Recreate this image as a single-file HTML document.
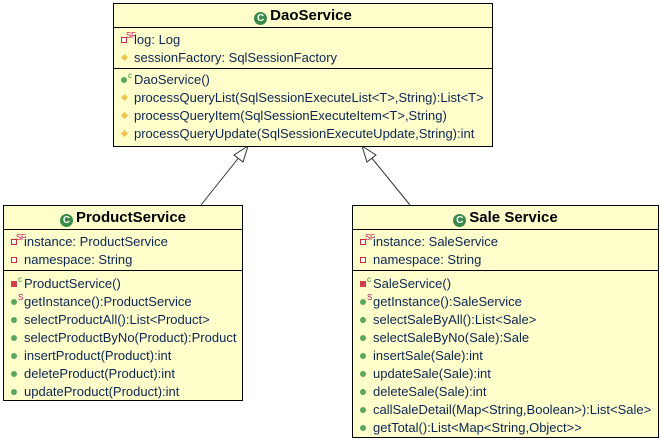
<!DOCTYPE html>
<html><head><meta charset="utf-8"><style>
body{margin:0;width:661px;height:441px;background:#fff;position:relative;overflow:hidden;font-family:"Liberation Sans",Arial,sans-serif;}
.box{position:absolute;background:#ffffcc;border:1px solid #000;box-sizing:border-box;}
.hd{position:absolute;left:0;right:0;top:0;height:23px;border-bottom:1px solid #000;text-align:center;font-weight:bold;font-size:15px;line-height:23px;color:#000;}
.hd i{display:inline-block;width:13px;height:13px;border-radius:50%;background:#3a8a4a;color:#fff;font-size:10px;font-style:normal;line-height:13px;text-align:center;vertical-align:-1px;margin-right:3px;}
.dv{position:absolute;left:0;right:0;height:1px;background:#000;}
.r{position:absolute;left:20px;height:18px;line-height:18px;font-size:13px;color:#0b2553;white-space:nowrap;}
.ic{position:absolute;left-13px;left:-13px;top:6px;width:6px;height:6px;}
.pub{border-radius:50%;background:#5aa860;}
.pro{background:#f0c050;transform:rotate(45deg);width:5px;height:5px;left:-12px;border:0;}
.pri{background:#fff;border:1px solid #c83040;width:4px;height:4px;}
.prif{background:#d04050;}
sup{position:absolute;left:-8px;top:-4px;font-size:8px;color:#c01060;}
sup.g{color:#2a8a2a;}
</style></head><body>
<svg width="661" height="441" style="position:absolute;left:0;top:0">
<g stroke="#333" fill="#fff" stroke-width="1">
<line x1="201" y1="205" x2="248" y2="146"/>
<polygon points="248,146 234,155 243,162"/>
<line x1="410" y1="205" x2="362" y2="146"/>
<polygon points="362,146 367,162 376,155"/>
</g></svg>

<div class="box" style="left:113px;top:3px;width:380px;height:144px">
<div class="hd"><i>C</i>DaoService</div>
<div class="r" style="top:27px"><span class="ic pri"></span><sup>S</sup><sup style="left:-3px">F</sup>log: Log</div>
<div class="r" style="top:45px"><span class="ic pro"></span>sessionFactory: SqlSessionFactory</div>
<div class="dv" style="top:64px"></div>
<div class="r" style="top:67px"><span class="ic pub"></span><sup class="g" style="left:-6px">c</sup>DaoService()</div>
<div class="r" style="top:85px"><span class="ic pro"></span>processQueryList(SqlSessionExecuteList&lt;T&gt;,String):List&lt;T&gt;</div>
<div class="r" style="top:103px"><span class="ic pro"></span>processQueryItem(SqlSessionExecuteItem&lt;T&gt;,String)</div>
<div class="r" style="top:121px"><span class="ic pro"></span>processQueryUpdate(SqlSessionExecuteUpdate,String):int</div>
</div>

<div class="box" style="left:3px;top:205px;width:240px;height:196px">
<div class="hd"><i>C</i>ProductService</div>
<div class="r" style="top:27px"><span class="ic pri"></span><sup>S</sup><sup style="left:-3px">F</sup>instance: ProductService</div>
<div class="r" style="top:45px"><span class="ic pri"></span>namespace: String</div>
<div class="dv" style="top:64px"></div>
<div class="r" style="top:69px"><span class="ic prif"></span><sup class="g" style="left:-6px">c</sup>ProductService()</div>
<div class="r" style="top:87px"><span class="ic pub"></span><sup style="left:-6px">S</sup>getInstance():ProductService</div>
<div class="r" style="top:105px"><span class="ic pub"></span>selectProductAll():List&lt;Product&gt;</div>
<div class="r" style="top:123px"><span class="ic pub"></span>selectProductByNo(Product):Product</div>
<div class="r" style="top:141px"><span class="ic pub"></span>insertProduct(Product):int</div>
<div class="r" style="top:159px"><span class="ic pub"></span>deleteProduct(Product):int</div>
<div class="r" style="top:177px"><span class="ic pub"></span>updateProduct(Product):int</div>
</div>

<div class="box" style="left:352px;top:205px;width:307px;height:233px">
<div class="hd"><i>C</i>Sale Service</div>
<div class="r" style="top:27px"><span class="ic pri"></span><sup>S</sup><sup style="left:-3px">F</sup>instance: SaleService</div>
<div class="r" style="top:45px"><span class="ic pri"></span>namespace: String</div>
<div class="dv" style="top:64px"></div>
<div class="r" style="top:69px"><span class="ic prif"></span><sup class="g" style="left:-6px">c</sup>SaleService()</div>
<div class="r" style="top:87px"><span class="ic pub"></span><sup style="left:-6px">S</sup>getInstance():SaleService</div>
<div class="r" style="top:105px"><span class="ic pub"></span>selectSaleByAll():List&lt;Sale&gt;</div>
<div class="r" style="top:123px"><span class="ic pub"></span>selectSaleByNo(Sale):Sale</div>
<div class="r" style="top:141px"><span class="ic pub"></span>insertSale(Sale):int</div>
<div class="r" style="top:159px"><span class="ic pub"></span>updateSale(Sale):int</div>
<div class="r" style="top:177px"><span class="ic pub"></span>deleteSale(Sale):int</div>
<div class="r" style="top:195px"><span class="ic pub"></span>callSaleDetail(Map&lt;String,Boolean&gt;):List&lt;Sale&gt;</div>
<div class="r" style="top:213px"><span class="ic pub"></span>getTotal():List&lt;Map&lt;String,Object&gt;&gt;</div>
</div>
</body></html>
